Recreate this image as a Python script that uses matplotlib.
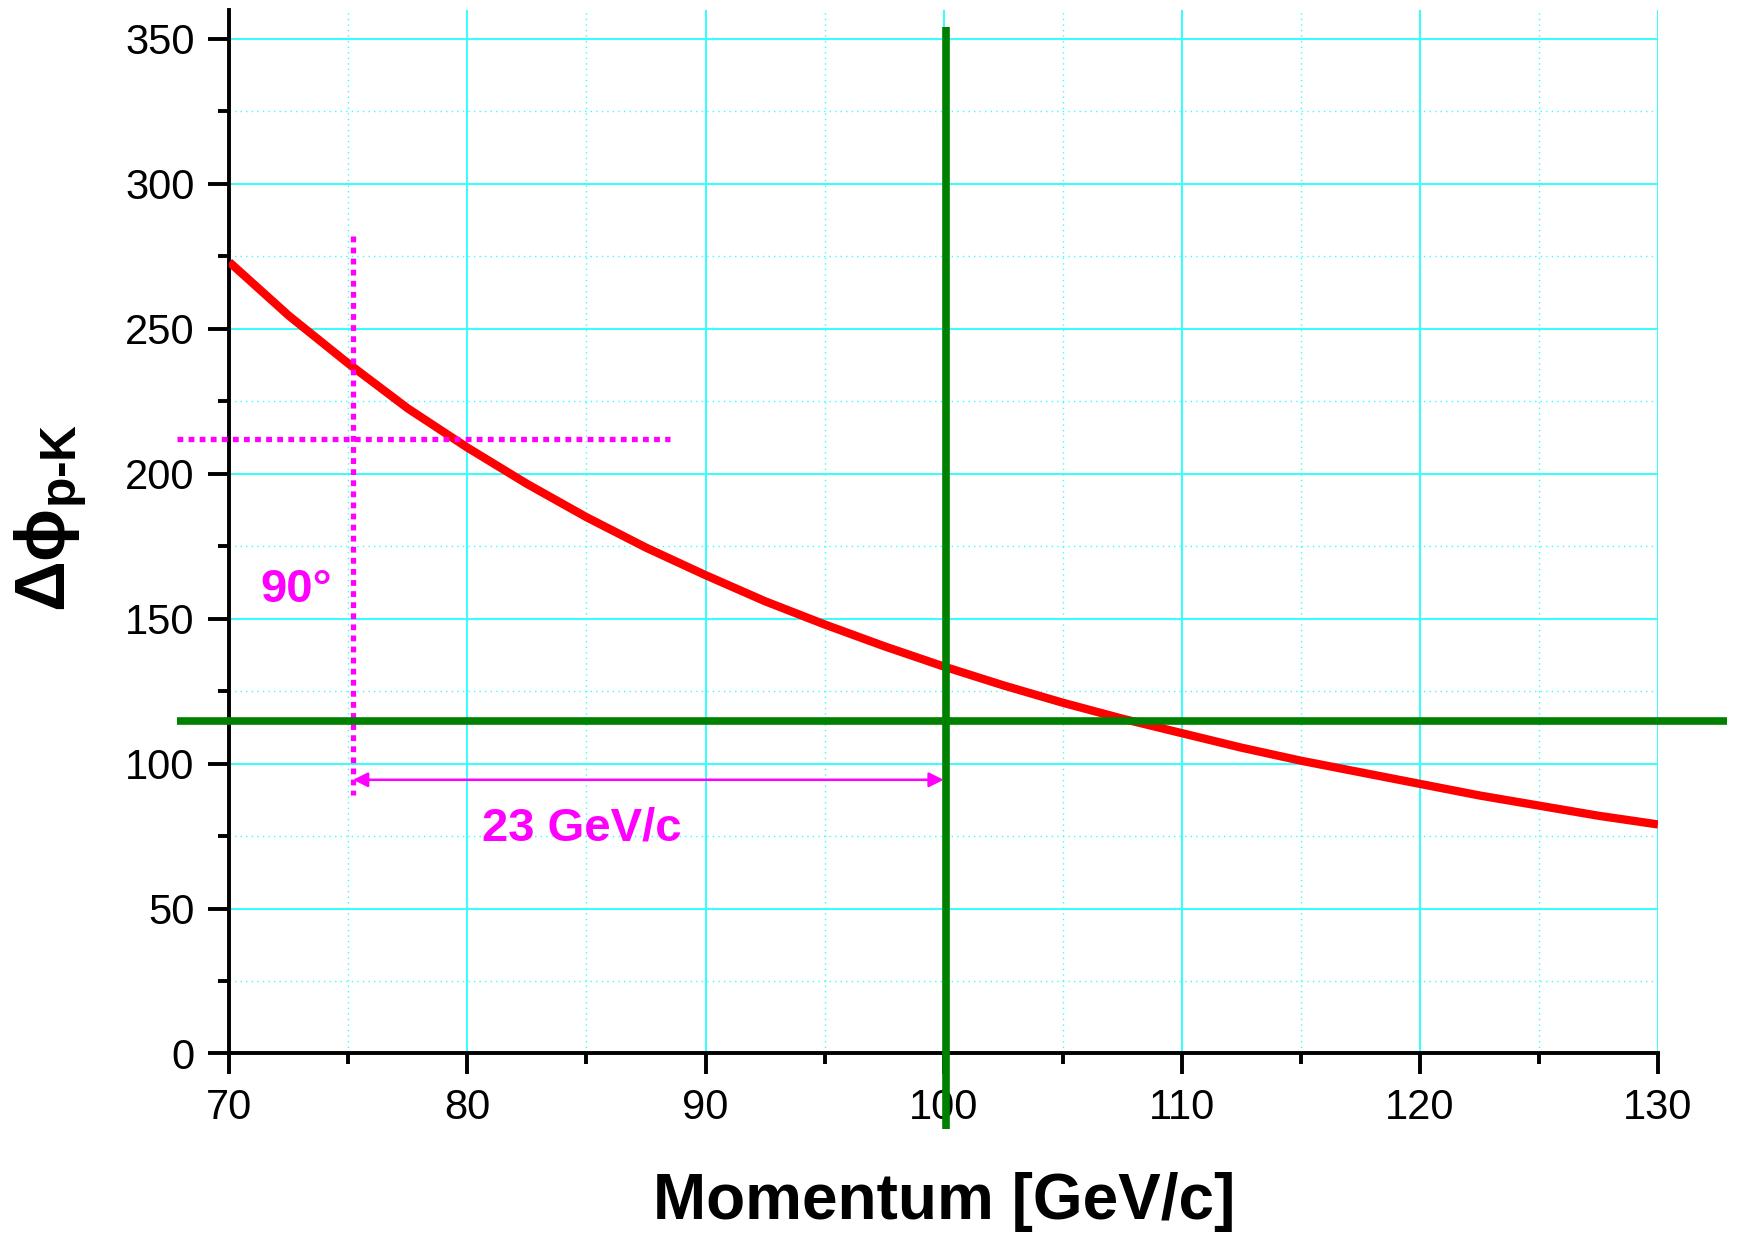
import matplotlib
matplotlib.use("Agg")
import matplotlib.pyplot as plt
from matplotlib.ticker import MultipleLocator

# Data
momentum = [70, 72.5, 75, 77.5, 80, 82.5, 85, 87.5, 90, 92.5, 95, 97.5, 100,
            102.5, 105, 107.5, 110, 112.5, 115, 117.5, 120, 122.5, 125, 127.5, 130]
dphi = [273, 254.5, 238, 222.5, 209, 196.5, 185, 174.5, 165, 156, 148, 140.5, 133.5,
        127, 121, 115.5, 110.5, 105.5, 101, 97, 93, 89, 85.5, 82, 79]

green_v_x = [100.1, 100.1]
green_v_y = [354, -26]
green_h_x = [67.8, 132.9]
green_h_y = [114.6, 114.6]
mag_v_x = [75.2, 75.2]
mag_v_y = [282, 89]
mag_h_x = [67.8, 88.5]
mag_h_y = [212, 212]
arrow_x = [75.2, 100.0]
arrow_y = 94.4
label_angle = "90°"
label_span = "23 GeV/c"
xticks = [70, 80, 90, 100, 110, 120, 130]
yticks = [0, 50, 100, 150, 200, 250, 300, 350]

plt.rcParams['font.family'] = ['Liberation Sans', 'DejaVu Sans']
plt.rcParams['mathtext.fontset'] = 'custom'
plt.rcParams['mathtext.rm'] = 'Liberation Sans:bold'
plt.rcParams['mathtext.it'] = 'Liberation Sans:bold'
plt.rcParams['mathtext.bf'] = 'Liberation Sans:bold'

fig = plt.figure(figsize=(17.37, 12.35), dpi=100)
ax = fig.add_axes([0.132, 0.147, 0.9545 - 0.132, 0.992 - 0.147])
ax.set_xlim(70, 130)
ax.set_ylim(0, 360)

cyan = '#33ffff'
ax.xaxis.set_minor_locator(MultipleLocator(5))
ax.yaxis.set_minor_locator(MultipleLocator(25))
ax.set_xticks(xticks)
ax.set_yticks(yticks)
ax.grid(True, which='major', color=cyan, lw=1.4, ls='-', zorder=0)
ax.grid(True, which='minor', color=cyan, lw=1.0, ls=(0, (1, 3)), zorder=0)
ax.set_axisbelow(True)

for s in ['top', 'right']:
    ax.spines[s].set_visible(False)
for s in ['left', 'bottom']:
    ax.spines[s].set_linewidth(2.8)

ax.tick_params(which='major', direction='out', length=15, width=2.8, labelsize=30, pad=10)
ax.tick_params(which='minor', direction='out', length=8, width=2.8)

ax.plot(momentum, dphi, color='#ff0000', lw=6, zorder=3, solid_capstyle='butt',
        solid_joinstyle='round')

ax.plot(mag_h_x, mag_h_y, color='#ff00ff', lw=3.8, ls=(0, (1.1, 1.0)), zorder=4,
        clip_on=False, dash_capstyle='butt')
ax.plot(mag_v_x, mag_v_y, color='#ff00ff', lw=3.8, ls=(0, (1.1, 1.0)), zorder=4,
        clip_on=False, dash_capstyle='butt')

ax.plot(green_h_x, green_h_y, color='#008000', lw=5.5, zorder=5, clip_on=False,
        solid_capstyle='butt')
ax.plot(green_v_x, green_v_y, color='#008000', lw=5.5, zorder=5, clip_on=False,
        solid_capstyle='butt')

ax.annotate('', xy=(arrow_x[1], arrow_y), xytext=(arrow_x[0], arrow_y),
            arrowprops=dict(arrowstyle='<|-|>', color='#ff00ff', lw=1.8,
                            mutation_scale=22, shrinkA=0, shrinkB=0), zorder=6)

ax.text(72.8, 160, label_angle, color='#ff00ff', fontsize=34, fontweight='bold',
        ha='center', va='center', zorder=6)
ax.text(84.8, 77.6, label_span, color='#ff00ff', fontsize=34, fontweight='bold',
        ha='center', va='center', zorder=6)

fig.text(944 / 1737, 1 - 1202 / 1235, 'Momentum [GeV/c]', fontsize=46, fontweight='bold',
         ha='center', va='center')
fig.text(50 / 1737, 1 - 518 / 1235, r'$\Delta\phi_{p\text{-}K}$', fontsize=51,
         rotation=90, ha='center', va='center')

fig.savefig('out.png', dpi=100)
